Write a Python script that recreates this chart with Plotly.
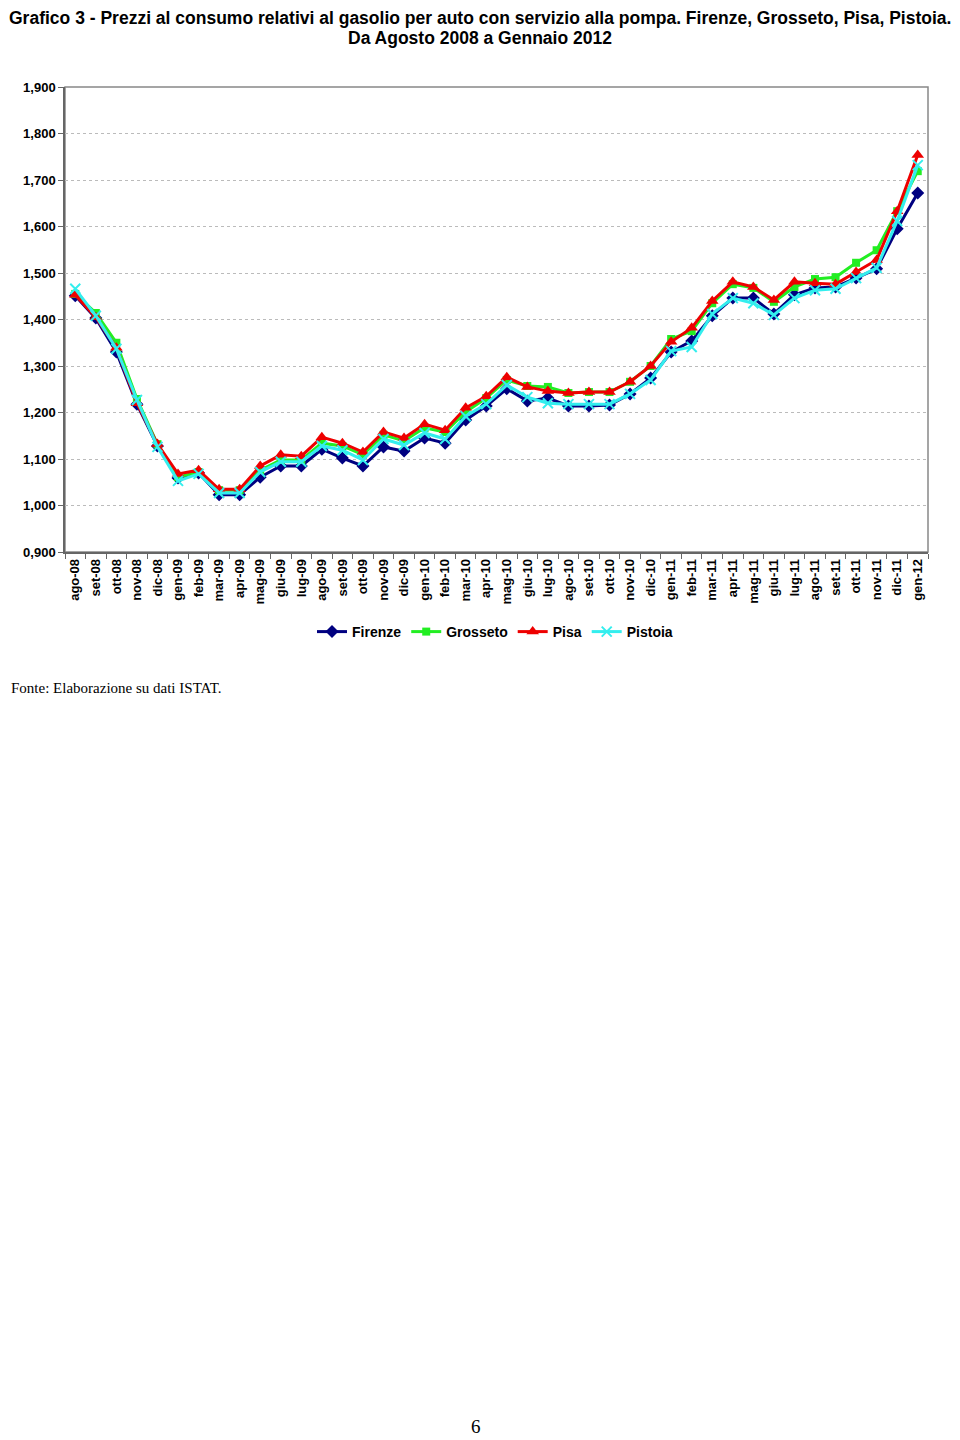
import plotly.graph_objects as go

months = ["ago-08", "set-08", "ott-08", "nov-08", "dic-08",
          "gen-09", "feb-09", "mar-09", "apr-09", "mag-09", "giu-09", "lug-09", "ago-09", "set-09", "ott-09", "nov-09", "dic-09",
          "gen-10", "feb-10", "mar-10", "apr-10", "mag-10", "giu-10", "lug-10", "ago-10", "set-10", "ott-10", "nov-10", "dic-10",
          "gen-11", "feb-11", "mar-11", "apr-11", "mag-11", "giu-11", "lug-11", "ago-11", "set-11", "ott-11", "nov-11", "dic-11",
          "gen-12"]

firenze = [1.451, 1.403, 1.330, 1.218, 1.128, 1.059, 1.070, 1.023, 1.023, 1.061, 1.085, 1.085, 1.121, 1.102, 1.085,
           1.126, 1.117, 1.145, 1.134, 1.184, 1.214, 1.251, 1.225, 1.231, 1.214, 1.214, 1.216, 1.240, 1.274, 1.330,
           1.354, 1.408, 1.446, 1.446, 1.412, 1.453, 1.468, 1.470, 1.489, 1.509, 1.595, 1.672]

grosseto = [1.455, 1.414, 1.350, 1.229, 1.132, 1.061, 1.072, 1.033, 1.033, 1.076, 1.098, 1.098, 1.134, 1.128, 1.109,
            1.152, 1.139, 1.167, 1.158, 1.201, 1.231, 1.270, 1.257, 1.255, 1.242, 1.244, 1.244, 1.266, 1.300, 1.358,
            1.375, 1.435, 1.476, 1.468, 1.438, 1.470, 1.487, 1.491, 1.522, 1.549, 1.633, 1.719]

pisa = [1.453, 1.405, 1.339, 1.220, 1.132, 1.068, 1.076, 1.035, 1.035, 1.085, 1.109, 1.106, 1.147, 1.134, 1.115,
        1.158, 1.145, 1.175, 1.162, 1.210, 1.235, 1.276, 1.255, 1.246, 1.242, 1.244, 1.244, 1.266, 1.300, 1.352,
        1.382, 1.440, 1.481, 1.470, 1.442, 1.481, 1.478, 1.476, 1.502, 1.528, 1.633, 1.754]

pistoia = [1.466, 1.408, 1.337, 1.227, 1.126, 1.053, 1.068, 1.027, 1.027, 1.072, 1.094, 1.094, 1.128, 1.119, 1.098,
           1.143, 1.130, 1.156, 1.143, 1.192, 1.218, 1.259, 1.233, 1.220, 1.218, 1.218, 1.218, 1.240, 1.270, 1.332,
           1.341, 1.412, 1.446, 1.435, 1.410, 1.446, 1.463, 1.466, 1.489, 1.511, 1.612, 1.732]

y_ticks = [0.9, 1.0, 1.1, 1.2, 1.3, 1.4, 1.5, 1.6, 1.7, 1.8, 1.9]

series = [
    ("Firenze", firenze, "#000080", "diamond", 10),
    ("Grosseto", grosseto, "#22EE22", "square", 8),
    ("Pisa", pisa, "#EE0000", "triangle-up", 11),
    ("Pistoia", pistoia, "#33EEEE", "x-thin", 10),
]

fig = go.Figure()
for name, vals, color, sym, size in series:
    fig.add_trace(go.Scatter(
        x=months, y=vals, name=name, mode="lines+markers",
        line=dict(color=color, width=3),
        marker=dict(symbol=sym, size=size, color=color,
                    line=dict(color=color, width=2 if sym == "x-thin" else 0)),
    ))

FONT = "Liberation Sans, Arial, sans-serif"
SERIF = "Liberation Serif, Times New Roman, serif"

# page coordinates -> paper coordinates (plot area spans x 65..928, y 87..552 on the page)
def px(x):
    return (x - 65) / 863

def py(y):
    return (552 - y) / 465

fig.update_layout(
    width=952, height=1432,
    margin=dict(l=57, r=32, t=79, b=888),
    paper_bgcolor="white", plot_bgcolor="white",
    separators=",.",
    font=dict(family=FONT, color="black"),
    showlegend=True,
    legend=dict(orientation="h", x=px(495), xanchor="center", y=py(632), yanchor="middle",
                font=dict(family=FONT, size=14, color="black", weight="bold"), itemwidth=30,
                bgcolor="rgba(0,0,0,0)", traceorder="normal"),
    shapes=[dict(type="rect", xref="paper", yref="paper", x0=0, x1=1, y0=0, y1=1,
                 line=dict(color="#888888", width=1.5), layer="below")],
    annotations=[
        dict(text="Grafico 3 - Prezzi al consumo relativi al gasolio per auto con servizio alla pompa. Firenze, Grosseto, Pisa, Pistoia.",
             xref="paper", yref="paper", x=px(480), y=py(18), xanchor="center", yanchor="middle",
             showarrow=False, font=dict(family=FONT, size=17.5, color="black", weight="bold")),
        dict(text="Da Agosto 2008 a Gennaio 2012",
             xref="paper", yref="paper", x=px(480), y=py(38), xanchor="center", yanchor="middle",
             showarrow=False, font=dict(family=FONT, size=17.5, color="black", weight="bold")),
        dict(text="Fonte: Elaborazione su dati ISTAT.", xref="paper", yref="paper",
             x=px(9), y=py(688), xanchor="left", yanchor="middle",
             showarrow=False, font=dict(family=SERIF, size=15, color="black")),
        dict(text="6", xref="paper", yref="paper",
             x=px(476), y=py(1439), xanchor="center", yanchor="bottom",
             showarrow=False, font=dict(family=SERIF, size=19, color="black")),
    ],
)

fig.update_xaxes(
    type="category", tickangle=-90, tickson="boundaries",
    ticks="outside", ticklen=5, tickcolor="#666666",
    showline=True, linecolor="#666666", linewidth=1.5,
    showgrid=False, range=[-0.5, len(months) - 0.5],
    tickfont=dict(family=FONT, size=13, color="black", weight="bold"),
)
fig.update_yaxes(
    range=[0.9, 1.9], tickvals=y_ticks, tickformat=".3f",
    ticks="outside", ticklen=5, tickcolor="#666666",
    showline=True, linecolor="#666666", linewidth=1.5,
    showgrid=True, gridcolor="#BBBBBB", griddash="dot", gridwidth=1,
    zeroline=False,
    tickfont=dict(family=FONT, size=13, color="black", weight="bold"),
)

fig.write_html("out.html")
